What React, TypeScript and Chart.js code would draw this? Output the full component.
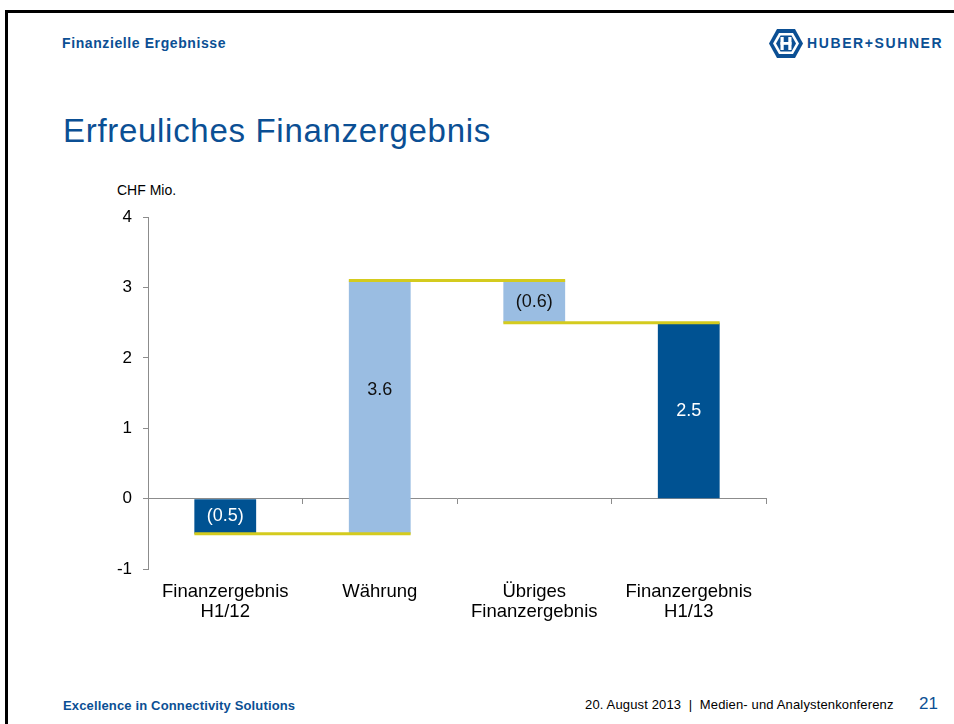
import React, { useEffect, useRef } from "react";
import { Chart, registerables } from "chart.js";

Chart.register(...registerables);

// ---- data ----
const categories: (string | string[])[] = [
  ["Finanzergebnis", "H1/12"],
  "Währung",
  ["Übriges", "Finanzergebnis"],
  ["Finanzergebnis", "H1/13"],
];
const barStart = [0, -0.5, 3.1, 0];
const barEnd = [-0.5, 3.1, 2.5, 2.5];
const barLabels = ["(0.5)", "3.6", "(0.6)", "2.5"];
const isTotal = [true, false, false, true];
const yMin = -1;
const yMax = 4;
const yStep = 1;

// ---- styles ----
const DARK = "#005292";
const LIGHT = "#9abde2";
const YELLOW = "#d4cb1e";
const AXIS = "#8c8c8c";
const BLUE_TEXT = "#0b4f94";
const FONT = "'Liberation Sans', Arial, sans-serif";

Chart.defaults.font.family = FONT;

const waterfallPlugin = {
  id: "waterfallDecor",
  afterDatasetsDraw(chart: any) {
    const meta = chart.getDatasetMeta(0);
    const ys = chart.scales.y;
    const ctx = chart.ctx as CanvasRenderingContext2D;
    ctx.save();
    ctx.strokeStyle = YELLOW;
    ctx.lineWidth = 3;
    for (let i = 0; i < meta.data.length - 1; i++) {
      const a = meta.data[i];
      const b = meta.data[i + 1];
      const y = ys.getPixelForValue(barEnd[i]);
      ctx.beginPath();
      ctx.moveTo(a.x - a.width / 2, y);
      ctx.lineTo(b.x + b.width / 2, y);
      ctx.stroke();
    }
    ctx.font = `18px ${FONT}`;
    ctx.textAlign = "center";
    ctx.textBaseline = "middle";
    meta.data.forEach((el: any, i: number) => {
      let lo = Math.min(barStart[i], barEnd[i]);
      const hi = Math.max(barStart[i], barEnd[i]);
      if (lo < 0 && hi > 0) lo = 0;
      const y = ys.getPixelForValue((lo + hi) / 2);
      ctx.fillStyle = isTotal[i] ? "#ffffff" : "#111111";
      ctx.fillText(barLabels[i], el.x, y);
    });
    ctx.restore();
  },
};

function WaterfallChart() {
  const ref = useRef<HTMLCanvasElement | null>(null);
  useEffect(() => {
    if (!ref.current) return;
    const chart = new Chart(ref.current, {
      type: "bar",
      data: {
        labels: categories as any,
        datasets: [
          {
            data: barStart.map((s, i) => [s, barEnd[i]]) as any,
            backgroundColor: isTotal.map((t) => (t ? DARK : LIGHT)),
            borderWidth: 0,
            barPercentage: 0.4,
            categoryPercentage: 1,
          },
        ],
      },
      options: {
        animation: false,
        responsive: false,
        devicePixelRatio: 1,
        layout: { padding: { top: 12, right: 34, bottom: 0, left: 0 } },
        plugins: {
          legend: { display: false },
          tooltip: { enabled: false },
        },
        scales: {
          x: {
            type: "category",
            position: "bottom",
            grid: { display: false, drawTicks: false, tickLength: 0 },
            border: { display: false },
            ticks: {
              color: "#000",
              font: { size: 18.5, lineHeight: 1.08 },
              padding: 13,
              maxRotation: 0,
              autoSkip: false,
            },
            afterFit: (s: any) => {
              s.height = 61;
            },
          },
          x2: {
            type: "category",
            axis: "x",
            position: { y: 0 },
            offset: true,
            grid: {
              offset: true,
              drawOnChartArea: false,
              tickLength: 5,
              color: AXIS,
            },
            border: { color: AXIS },
            ticks: { display: false },
          },
          y: {
            min: yMin,
            max: yMax,
            ticks: {
              stepSize: yStep,
              color: "#000",
              font: { size: 17 },
              padding: 11,
            },
            grid: { drawOnChartArea: false, tickLength: 5, color: AXIS },
            border: { color: AXIS },
            afterFit: (s: any) => {
              s.width = 48;
            },
          },
        } as any,
      },
      plugins: [waterfallPlugin],
    });
    return () => chart.destroy();
  }, []);
  return (
    <canvas
      ref={ref}
      width={700}
      height={434}
      style={{ position: "absolute", left: 100, top: 196, width: 700, height: 434 }}
    />
  );
}

function Logo() {
  return (
    <div style={{ position: "absolute", left: 768, top: 28, width: 180, height: 32 }}>
      <svg width={36} height={32} style={{ position: "absolute", left: 0, top: 0 }}>
        <polygon points="9,1 27,1 35,15.5 27,30 9,30 1,15.5" fill={BLUE_TEXT} />
        <polygon points="11,5 25,5 31,15.5 25,26 11,26 5,15.5" fill="#ffffff" />
        <polygon points="12.5,7.5 23.5,7.5 28,15.5 23.5,23.5 12.5,23.5 8,15.5" fill={BLUE_TEXT} />
        <rect x={12.5} y={9} width={3.2} height={13} fill="#ffffff" />
        <rect x={20.3} y={9} width={3.2} height={13} fill="#ffffff" />
        <rect x={12.5} y={14} width={11} height={2.8} fill="#ffffff" />
      </svg>
      <div
        style={{
          position: "absolute",
          left: 39,
          top: 5,
          fontSize: 14,
          lineHeight: "20px",
          fontWeight: 700,
          letterSpacing: 1.6,
          color: BLUE_TEXT,
          whiteSpace: "nowrap",
        }}
      >
        HUBER+SUHNER
      </div>
    </div>
  );
}

export default function App() {
  const text = (
    content: string,
    left: number,
    centerY: number,
    size: number,
    color: string,
    bold = false,
    extra: React.CSSProperties = {}
  ) => (
    <div
      style={{
        position: "absolute",
        left,
        top: centerY - 10,
        height: 20,
        lineHeight: "20px",
        fontSize: size,
        fontWeight: bold ? 700 : 400,
        color,
        whiteSpace: "nowrap",
        ...extra,
      }}
    >
      {content}
    </div>
  );
  return (
    <div
      style={{
        position: "fixed",
        left: 0,
        top: 0,
        width: 954,
        height: 724,
        background: "#ffffff",
        overflow: "hidden",
        fontFamily: FONT,
      }}
    >
      <div
        style={{
          position: "absolute",
          left: 5,
          top: 10,
          width: 980,
          height: 760,
          borderTop: "3px solid #000",
          borderLeft: "3px solid #000",
        }}
      />
      {text("Finanzielle Ergebnisse", 62, 43, 14, BLUE_TEXT, true, { letterSpacing: 0.6 })}
      <Logo />
      <div
        style={{
          position: "absolute",
          left: 63,
          top: 111,
          height: 40,
          lineHeight: "40px",
          fontSize: 33,
          letterSpacing: 0.7,
          color: BLUE_TEXT,
          whiteSpace: "nowrap",
        }}
      >
        Erfreuliches Finanzergebnis
      </div>
      {text("CHF Mio.", 117, 190, 14, "#000")}
      <WaterfallChart />
      {text("Excellence in Connectivity Solutions", 63, 706, 13, BLUE_TEXT, true, { letterSpacing: 0.15 })}
      {text("20. August 2013  |  Medien- und Analystenkonferenz", 585, 705, 13, "#000", false, {
        whiteSpace: "pre",
        letterSpacing: 0.15,
      })}
      {text("21", 919, 704, 17, BLUE_TEXT)}
    </div>
  );
}
